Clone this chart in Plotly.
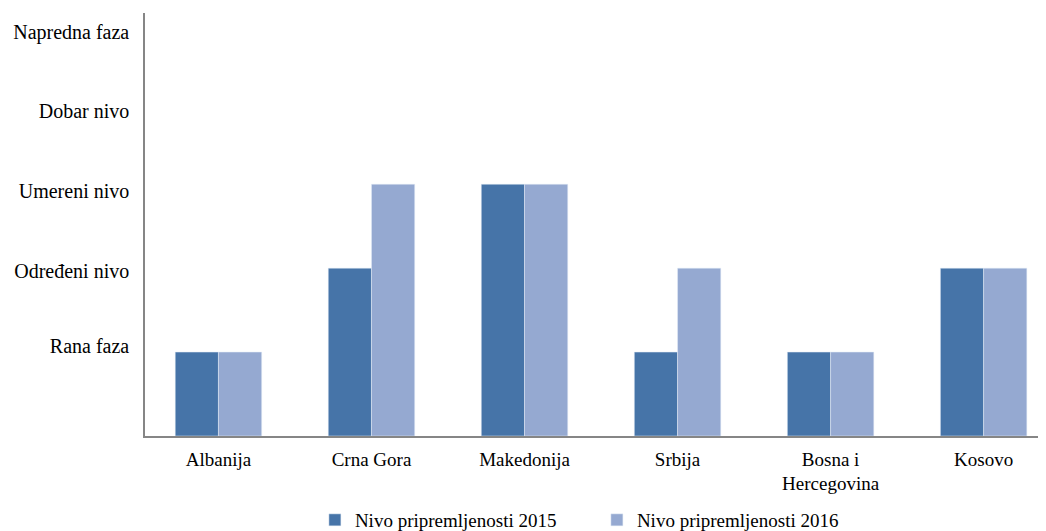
import plotly.graph_objects as go

countries = ["Albanija", "Crna Gora", "Makedonija", "Srbija", "Bosna i<br>Hercegovina", "Kosovo"]
values_2015 = [1, 2, 3, 1, 1, 2]
values_2016 = [1, 3, 3, 2, 1, 2]
series_names = ["Nivo pripremljenosti 2015", "Nivo pripremljenosti 2016"]
level_labels = ["Rana faza", "Određeni nivo", "Umereni nivo", "Dobar nivo", "Napredna faza"]
level_positions = [1.07, 1.97, 2.92, 3.87, 4.81]

font_family = "Times New Roman, Liberation Serif, serif"

fig = go.Figure()
fig.add_trace(go.Bar(x=countries, y=values_2015, name=series_names[0], marker_color="#4674A8"))
fig.add_trace(go.Bar(x=countries, y=values_2016, name=series_names[1], marker_color="#95A9D1"))

fig.update_layout(
    width=1046, height=531,
    margin=dict(l=137, r=0, t=5, b=103),
    paper_bgcolor="white", plot_bgcolor="white",
    barmode="group", bargap=0.435, bargroupgap=0,
    font=dict(family=font_family, size=19, color="#000000"),
    showlegend=True,
    legend=dict(orientation="h", xref="container", yref="container",
                x=0.563, xanchor="center", y=-0.012, yanchor="bottom",
                font=dict(family=font_family, size=19), itemwidth=30, tracegroupgap=0,
                entrywidth=237),
    xaxis=dict(range=[-0.48, 5.46], showline=True, linecolor="#868686", linewidth=1.5,
               ticks="", showgrid=False, tickfont=dict(family=font_family, size=19),
               ticklabelstandoff=5),
    yaxis=dict(range=[0, 5.04], showline=True, linecolor="#868686", linewidth=1.5,
               ticks="", showgrid=False, zeroline=False,
               tickmode="array", tickvals=level_positions, ticktext=level_labels,
               tickfont=dict(family=font_family, size=20), ticklabelstandoff=10),
)

fig.write_html("out.html")
